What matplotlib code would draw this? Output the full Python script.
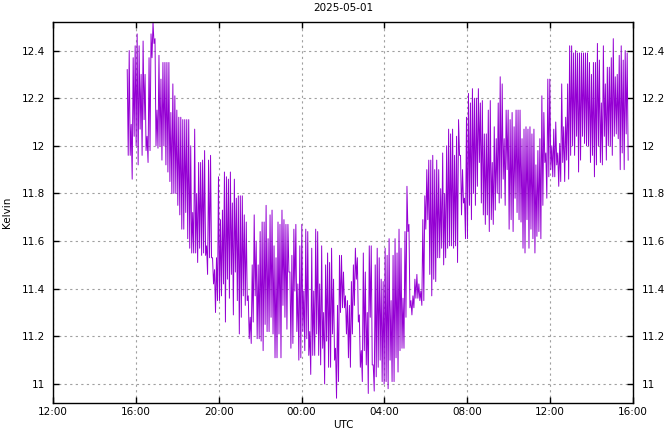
import matplotlib
matplotlib.use("Agg")
import matplotlib.pyplot as plt
import matplotlib.dates as mdates
import pandas as pd

# temperature readings (Kelvin), upper and lower turning points of each swing
picos = [
    12.32, 12.40, 12.09, 12.37, 12.42, 12.47, 12.42, 12.30, 12.44, 12.30,
    12.04, 12.37, 12.47, 12.52, 12.45, 12.15, 12.38, 12.28, 12.35, 12.35,
    12.35, 12.35, 12.14, 12.26, 12.21, 12.15, 12.12, 12.12, 12.11, 12.11,
    12.11, 12.11, 12.00, 11.72, 12.07, 11.80, 11.93, 11.93, 11.94,
    11.98, 11.58, 11.94, 11.96, 11.53, 11.48, 11.53, 11.87, 11.69, 11.73,
    11.89, 11.87, 11.86, 11.89, 11.76, 11.86, 11.78, 11.79, 11.79, 11.79,
    11.71, 11.68, 11.37, 11.28, 11.50, 11.71, 11.60, 11.50, 11.64, 11.68,
    11.68, 11.75, 11.61, 11.71, 11.73, 11.58, 11.53, 11.68, 11.67, 11.73,
    11.69, 11.67, 11.67,
    11.47, 11.54, 11.65, 11.67, 11.42, 11.58, 11.67, 11.39, 11.65, 11.64,
    11.22, 11.57, 11.39, 11.65, 11.64, 11.42, 11.58, 11.30, 11.50, 11.55,
    11.51, 11.57, 11.44, 11.15, 11.33, 11.54, 11.54, 11.47, 11.37, 11.35,
    11.33, 11.43, 11.50, 11.57, 11.53, 11.29, 11.14, 11.55, 11.47, 11.30,
    11.58, 11.58, 11.08,
    11.50, 11.57, 11.53, 11.44, 11.43, 11.57, 11.54, 11.61, 11.35, 11.54,
    11.61, 11.55, 11.65, 11.57, 11.36, 11.64, 11.83, 11.67, 11.35, 11.37,
    11.44, 11.46, 11.42, 11.39, 11.69, 11.79, 11.90, 11.94, 11.94, 11.96,
    11.90, 11.94, 11.90, 11.82, 11.97, 11.80, 12.00, 12.07, 12.05, 12.07,
    11.96, 12.04, 12.11,
    11.96, 11.90, 11.78, 12.12, 12.22, 12.18, 12.24, 12.20, 12.20, 12.24,
    12.18, 12.19, 12.05, 12.05, 12.15, 12.19, 11.93, 12.08, 12.03, 12.18,
    12.29, 12.26, 12.03, 12.15, 12.15, 12.11, 12.14, 12.08, 12.15, 12.15,
    12.15, 12.03, 12.07, 12.08, 12.07, 12.08, 12.05, 12.07, 11.92, 11.98,
    12.03, 12.21, 12.14,
    11.97, 12.28, 12.28, 12.00, 12.07, 12.10, 11.97, 12.01, 12.26, 12.08,
    12.12, 12.26, 12.42, 12.42, 12.39, 12.40, 12.39, 12.39, 12.39, 12.39,
    12.39, 12.39, 12.35, 12.30, 12.35, 12.35, 12.43, 12.36, 12.18, 12.42,
    12.26, 12.33, 12.33, 12.37, 12.45, 12.29, 12.30, 12.38, 12.42, 12.36,
    12.40, 12.39,
]
valles = [
    11.96, 11.96, 11.86, 12.04, 12.00, 11.92, 12.07, 11.96, 12.11, 11.98,
    11.93, 11.98, 12.37, 12.43, 12.00, 11.99, 12.00, 11.94, 12.00, 11.92,
    11.89, 11.85, 11.80, 11.80, 11.80, 11.75, 11.71, 11.65, 11.65, 11.72,
    11.61, 11.57, 11.55, 11.55, 11.55, 11.51, 11.57, 11.54, 11.55,
    11.54, 11.46, 11.53, 11.53, 11.42, 11.30, 11.35, 11.35, 11.37, 11.42,
    11.26, 11.44, 11.36, 11.46, 11.29, 11.47, 11.35, 11.21, 11.28, 11.37,
    11.33, 11.35, 11.19, 11.17, 11.26, 11.37, 11.19, 11.19, 11.18, 11.14,
    11.25, 11.22, 11.22, 11.28, 11.21, 11.11, 11.11, 11.21, 11.11, 11.33,
    11.28, 11.23, 11.47,
    11.15, 11.17, 11.39, 11.22, 11.10, 11.11, 11.22, 11.14, 11.19, 11.12,
    11.04, 11.12, 11.12, 11.21, 11.12, 11.08, 11.15, 11.00, 11.18, 11.07,
    11.07, 11.21, 11.10, 10.94, 11.01, 11.30, 11.32, 11.32, 11.21, 11.11,
    11.07, 11.21, 11.33, 11.44, 11.26, 11.07, 11.01, 11.14, 11.08, 10.96,
    11.28, 11.08, 10.97,
    11.03, 11.07, 11.10, 11.01, 11.00, 11.01, 10.98, 11.10, 11.01, 11.01,
    11.11, 11.05, 11.14, 11.15, 11.15, 11.28, 11.64, 11.32, 11.29, 11.32,
    11.36, 11.36, 11.35, 11.33, 11.35, 11.65, 11.69, 11.46, 11.37, 11.44,
    11.43, 11.53, 11.53, 11.57, 11.50, 11.53, 11.57, 11.58, 11.58, 11.57,
    11.58, 11.51, 11.96,
    11.71, 11.76, 11.61, 11.61, 11.75, 11.69, 11.80, 11.75, 11.83, 11.93,
    11.76, 11.71, 11.67, 11.71, 11.64, 11.69, 11.67, 11.73, 11.80, 11.76,
    11.78, 11.86, 11.75, 11.90, 11.65, 11.69, 11.64, 11.78, 11.72, 11.69,
    11.68, 11.57, 11.55, 11.69, 11.57, 11.65, 11.61, 11.55, 11.62, 11.64,
    11.61, 11.75, 11.93,
    11.78, 11.87, 11.90, 11.87, 11.87, 11.92, 11.83, 11.85, 11.93, 11.85,
    11.94, 11.86, 11.96, 12.00, 11.96, 12.04, 11.89, 11.94, 12.04, 12.01,
    12.00, 12.00, 11.93, 11.96, 11.87, 11.92, 12.00, 11.93, 11.92, 12.04,
    11.94, 12.00, 12.00, 11.96, 12.04, 12.05, 12.03, 11.90, 11.97, 11.90,
    12.05, 11.94,
]
inicio = "2025-04-30 15:35"
fin = "2025-05-01 15:46"

kelvin = []
for p, v in zip(picos, valles):
    kelvin.append(p)
    kelvin.append(v)
tiempos = pd.date_range(inicio, fin, periods=len(kelvin))

plt.rcParams['font.family'] = ['Liberation Sans Narrow', 'DejaVu Sans']
fig = plt.figure(figsize=(6.64, 4.32), dpi=100)
ax = fig.add_axes([53 / 664, 1 - 403 / 432, 580 / 664, 381 / 432])

ax.plot(tiempos, kelvin, color='#9400d3', lw=0.7)

ax.set_xlim(pd.Timestamp("2025-04-30 12:00"), pd.Timestamp("2025-05-01 16:00"))
ax.set_ylim(10.92, 12.52)
ax.xaxis.set_major_locator(mdates.HourLocator(byhour=[0, 4, 8, 12, 16, 20]))
ax.xaxis.set_major_formatter(mdates.DateFormatter('%H:%M'))
ax.set_yticks([11, 11.2, 11.4, 11.6, 11.8, 12, 12.2, 12.4])
ax.set_yticklabels(['11', '11.2', '11.4', '11.6', '11.8', '12', '12.2', '12.4'])

ax.tick_params(direction='in', length=4, width=1, labelsize=7.5, top=True,
               right=True, labelright=True, colors='black')
ax.tick_params(axis='x', pad=3)
ax.tick_params(axis='y', pad=6)
ax.grid(True, color='#a0a0a0', linestyle=(0, (2, 3)), lw=0.8)
for s in ax.spines.values():
    s.set_linewidth(1.0)

ax.set_title("2025-05-01", fontsize=7.5, pad=8)
ax.set_xlabel("UTC", fontsize=7.5, labelpad=2)
ax.set_ylabel("Kelvin", fontsize=7.5)
ax.yaxis.set_label_coords(-0.07, 0.5)

fig.savefig("out.png", dpi=100)
